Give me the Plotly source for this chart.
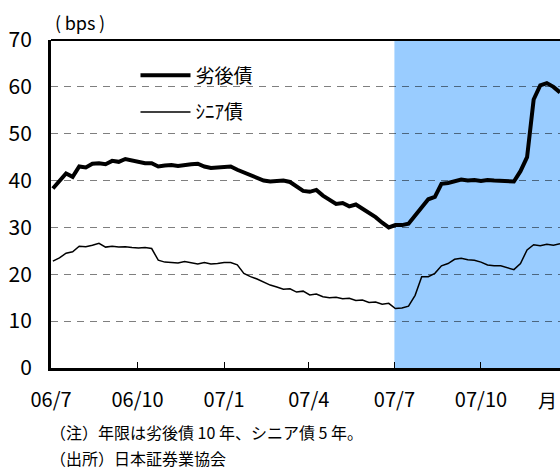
import pandas as pd
import plotly.graph_objects as go

# Weekly observations, spread in bps
weeks = pd.date_range("2006-07-03", periods=78, freq="7D")

subordinated = [
    38.3, 40.0, 41.5, 40.8, 43.0, 42.8, 43.6, 43.7, 43.5, 44.2,
    44.0, 44.6, 44.3, 43.8, 43.7, 43.7, 43.0, 43.2, 43.3, 43.1,
    43.4, 43.5, 43.6, 43.0, 42.7, 42.8, 43.0, 43.0, 42.3, 41.7,
    41.0, 40.5, 40.0, 39.8, 39.8, 40.0, 39.7, 38.8, 37.8, 37.6,
    38.0, 36.8, 35.8, 35.0, 35.2, 34.5, 34.9, 34.0, 33.2, 32.2,
    31.0, 30.0, 30.5, 30.5, 30.8, 32.5, 34.2, 36.0, 36.5, 39.3,
    39.5, 39.8, 40.2, 40.0, 40.1, 39.9, 40.1, 40.0, 39.9, 39.8,
    39.8, 42.0, 45.0, 57.3, 60.3, 60.8, 60.0, 58.8,
]

senior = [
    22.8, 23.5, 24.5, 24.8, 26.0, 25.9, 26.2, 26.6, 25.8, 26.0,
    25.8, 25.9, 25.7, 25.6, 25.7, 25.5, 23.0, 22.6, 22.5, 22.4,
    22.7, 22.4, 22.2, 22.5, 22.2, 22.3, 22.5, 22.5, 22.0, 20.2,
    19.5, 19.0, 18.3, 17.7, 17.3, 16.8, 16.9, 16.2, 16.4, 15.6,
    15.8, 15.2, 15.0, 15.1, 14.8, 14.9, 14.4, 14.5, 14.0, 14.1,
    13.6, 13.8, 12.7, 12.8, 13.2, 15.5, 19.5, 19.5, 20.2, 21.8,
    22.3, 23.2, 23.4, 23.1, 23.0, 22.6, 22.0, 21.8, 21.8, 21.4,
    21.0, 22.3, 25.2, 26.3, 26.1, 26.4, 26.2, 26.5,
]

series_names = ["劣後債", "ｼﾆｱ債"]
shade_start = "2007-07-01"
x_range = ["2006-07-01", "2007-12-24"]

JP = "Noto Sans CJK JP"

fig = go.Figure()
fig.add_trace(go.Scatter(
    x=weeks, y=subordinated, mode="lines", name=series_names[0],
    line=dict(color="black", width=4), legendgroup="a",
))
fig.add_trace(go.Scatter(
    x=weeks, y=senior, mode="lines", name=series_names[1],
    line=dict(color="black", width=1.5), legendgroup="b",
))

# shaded period from 07/7 onward
fig.add_shape(type="rect", xref="x", yref="paper",
              x0=shade_start, x1="2008-02-01", y0=0, y1=1,
              fillcolor="#99CCFF", line_width=0, layer="below")
# white backing behind the legend
fig.add_shape(type="rect", xref="paper", yref="paper",
              x0=0.073, x1=0.527, y0=0.74, y1=0.95,
              fillcolor="white", line_width=0, layer="between")
# top frame line
fig.add_shape(type="line", xref="paper", yref="paper",
              x0=0, x1=1, y0=1, y1=1,
              line=dict(color="black", width=2), layer="above")

fig.update_layout(
    width=560, height=469,
    margin=dict(l=51, r=0, t=40, b=101),
    paper_bgcolor="white", plot_bgcolor="white",
    font=dict(family=JP, color="black"),
    showlegend=True,
    legend=dict(
        x=0.166, y=0.95, xanchor="left", yanchor="top",
        bgcolor="rgba(0,0,0,0)", font=dict(size=19, family=JP),
        traceorder="grouped", tracegroupgap=9, itemwidth=50,
    ),
    xaxis=dict(
        type="date", range=x_range,
        tick0="2006-07-01", dtick="M3", tickformat="%y/%-m",
        ticks="inside", ticklen=6, tickwidth=1, tickcolor="black",
        showline=True, linecolor="black", linewidth=3,
        showgrid=False, zeroline=False,
        tickfont=dict(size=20, family=JP),
        ticklabelstandoff=12,
    ),
    yaxis=dict(
        range=[0, 70], dtick=10,
        showline=True, linecolor="black", linewidth=3,
        showgrid=True, gridcolor="rgba(0,0,0,0.5)", gridwidth=1,
        griddash="7px,6px", zeroline=False, ticks="",
        tickfont=dict(size=21, family=JP),
        ticklabelstandoff=12,
    ),
)

fig.add_annotation(text="(\u2009bps\u2009)", xref="paper", yref="paper",
                   x=0.003, y=1.0, xanchor="left", yanchor="bottom", yshift=3,
                   showarrow=False, font=dict(size=18, family=JP))
fig.add_annotation(text="月", xref="paper", yref="paper",
                   x=0.975, y=0, xanchor="center", yanchor="middle", yshift=-31,
                   showarrow=False, font=dict(size=19, family=JP))
fig.add_annotation(text="（注）年限は劣後債 10 年、シニア債 5 年。", xref="paper", yref="paper",
                   x=-0.005, y=0, xanchor="left", yanchor="middle", yshift=-64,
                   showarrow=False, font=dict(size=16, family=JP))
fig.add_annotation(text="（出所）日本証券業協会", xref="paper", yref="paper",
                   x=-0.005, y=0, xanchor="left", yanchor="middle", yshift=-90,
                   showarrow=False, font=dict(size=16, family=JP))

fig.write_html("out.html")
